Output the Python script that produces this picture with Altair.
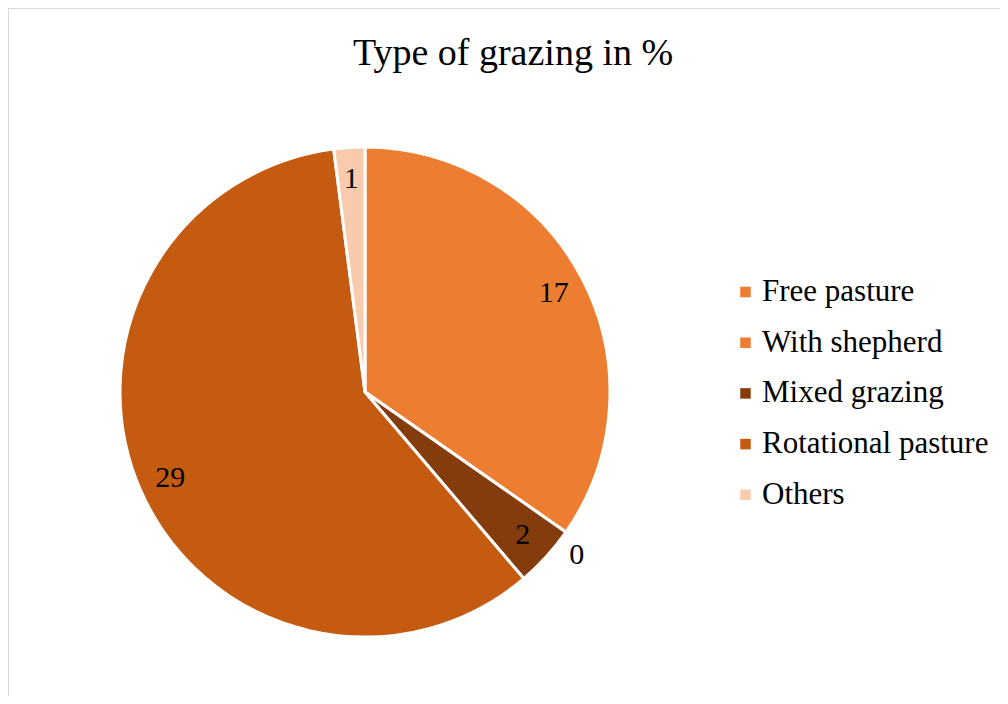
import altair as alt
import pandas as pd

categories = ["Free pasture", "With shepherd", "Mixed grazing", "Rotational pasture", "Others"]
values = [17, 0, 2, 29, 1]
colors = ["#ED7D31", "#ED7D31", "#843C0C", "#C55A11", "#F8CBAD"]
title_text = "Type of grazing in %"

df = pd.DataFrame({"category": categories, "value": values, "order": list(range(len(categories)))})
one = pd.DataFrame({"t": [title_text]})

FONT = "Liberation Serif"
W, H = 992, 688
CX, CY, R = 357, 384, 245

color = alt.Color(
    "category:N",
    scale=alt.Scale(domain=categories, range=colors),
    legend=alt.Legend(
        orient="none", legendX=722, legendY=268.5, title=None,
        labelFont=FONT, labelFontSize=31, labelColor="black", labelLimit=500,
        symbolType="square", symbolSize=110, symbolStrokeWidth=0,
        rowPadding=18.7, labelOffset=1, padding=0,
    ),
)

base = alt.Chart(df).encode(
    theta=alt.Theta("value:Q", stack=True),
    order=alt.Order("order:Q"),
    x=alt.value(CX), y=alt.value(CY),
)

pie = base.mark_arc(radius=R, stroke="white", strokeWidth=3).encode(color=color)

inner = base.mark_text(radius=213, font=FONT, fontSize=30, color="black").encode(
    text="value:Q",
    opacity=alt.condition(alt.datum.value > 0, alt.value(1), alt.value(0)),
)
outer = base.mark_text(radius=268, dx=-8, dy=10, font=FONT, fontSize=30, color="black").encode(
    text="value:Q",
    opacity=alt.condition(alt.datum.value == 0, alt.value(1), alt.value(0)),
)

title = alt.Chart(one).mark_text(font=FONT, fontSize=38, color="black", baseline="alphabetic", align="center").encode(
    text="t:N", x=alt.value(505), y=alt.value(57)
)
left_rule = alt.Chart(one).mark_rule(color="#d9d9d9", strokeWidth=2).encode(
    x=alt.value(0), y=alt.value(0), y2=alt.value(H)
)
top_rule = alt.Chart(one).mark_rule(color="#d9d9d9", strokeWidth=2).encode(
    x=alt.value(0), x2=alt.value(W), y=alt.value(0)
)

chart = alt.layer(left_rule, top_rule, pie, inner, outer, title).properties(
    width=W, height=H, padding=0, autosize=alt.AutoSizeParams(type="none"),
    background="white",
).configure_view(stroke=None, strokeWidth=0).configure_legend(labelFont=FONT).configure_text(font=FONT)

chart.save("out.html", embed_options={"renderer": "svg", "actions": False})
